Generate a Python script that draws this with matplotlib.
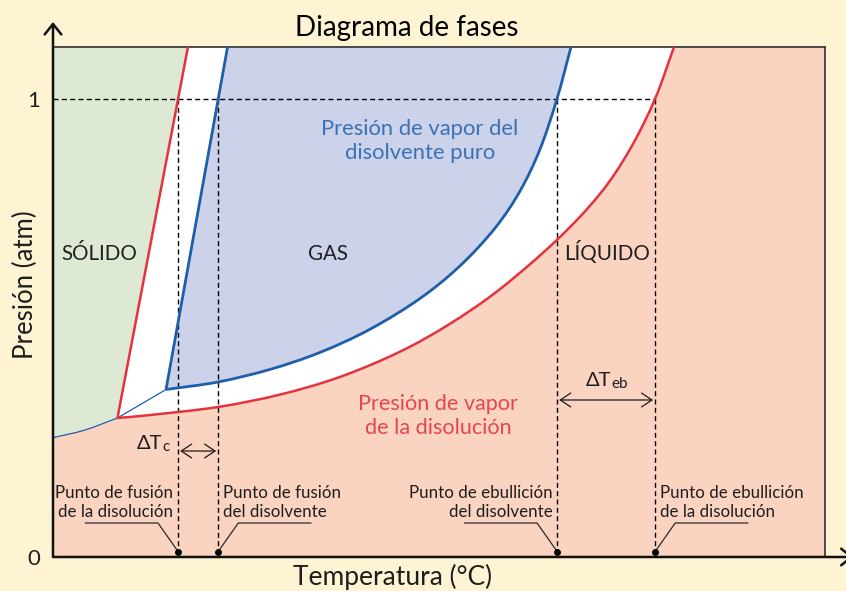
import numpy as np
import matplotlib
matplotlib.use("Agg")
import matplotlib.pyplot as plt
from matplotlib.path import Path
from matplotlib.patches import PathPatch

plt.rcParams['font.family'] = ['Lato', 'DejaVu Sans']

# ---------------------------------------------------------------
# Data: temperature on a relative 0-100 scale, pressure in atm
# ---------------------------------------------------------------
t_fus_disolucion = 16.2    # punto de fusión de la disolución
t_fus_disolvente = 21.4    # punto de fusión del disolvente
t_eb_disolvente = 65.3     # punto de ebullición del disolvente
t_eb_disolucion = 78.0     # punto de ebullición de la disolución

# sublimation curve of the pure solvent (up to the solution's triple point)
sub_T = [0.0, 4.15, 8.35]
sub_p = [0.2605, 0.2773, 0.3035]

# vapour pressure of the pure solvent (starts at its triple point)
vap_disolvente_T = [14.64, 21.37, 28.11, 34.59, 41.06, 47.54, 52.72, 57.25,
                    60.49, 63.08, 65.28, 67.10]
vap_disolvente_p = [0.3657, 0.3821, 0.4096, 0.4467, 0.4972, 0.5644, 0.6356,
                    0.7179, 0.7989, 0.8902, 1.0, 1.1135]

# vapour pressure of the solution (starts at its triple point)
vap_disolucion_T = [8.35, 12.56, 21.37, 29.40, 37.18, 44.95, 51.42, 57.90,
                    65.28, 70.85, 74.74, 77.98, 80.44]
vap_disolucion_p = [0.3035, 0.3100, 0.3275, 0.3546, 0.3932, 0.4483, 0.5092,
                    0.5849, 0.6924, 0.7928, 0.8902, 1.0, 1.1135]

y_ticks = [0, 1]
y_ticklabels = ['0', '1']

T_MIN, T_MAX = 0.0, 100.0
P_MIN, P_MAX = 0.0, 1.1135

# ---------------------------------------------------------------
# Colours
# ---------------------------------------------------------------
C_BG = '#FEF4D4'
C_SOLID = '#DDE9D2'
C_GAS = '#CDD2EB'
C_LIQ = '#FBD3C1'
C_RED = '#E5323F'
C_BLUE = '#1F5EA8'
C_RED_TXT = '#E6454E'
C_BLUE_TXT = '#3A72B5'
C_TXT = '#1E1E1E'


def bezier_segments(xs, ys):
    """Catmull-Rom curve through the points, as cubic Bezier control triplets."""
    pts = np.column_stack([xs, ys]).astype(float)
    ext = np.vstack([2 * pts[0] - pts[1], pts, 2 * pts[-1] - pts[-2]])
    segs = []
    for i in range(len(pts) - 1):
        p0, p1, p2, p3 = ext[i], ext[i + 1], ext[i + 2], ext[i + 3]
        segs.append((p1 + (p2 - p0) / 6.0, p2 - (p3 - p1) / 6.0, p2))
    return segs


def build_path(pieces, close=True):
    """pieces: list of ('L' | 'C', xs, ys), each continuing from the previous one."""
    verts, codes = [], []
    for k, (kind, xs, ys) in enumerate(pieces):
        if k == 0:
            verts.append((xs[0], ys[0]))
            codes.append(Path.MOVETO)
        if kind == 'L':
            for x, y in zip(xs[1:], ys[1:]):
                verts.append((x, y))
                codes.append(Path.LINETO)
        else:
            for c1, c2, p in bezier_segments(xs, ys):
                verts += [tuple(c1), tuple(c2), tuple(p)]
                codes += [Path.CURVE4] * 3
    if close:
        verts.append(verts[0])
        codes.append(Path.CLOSEPOLY)
    return Path(verts, codes)


def melt_line(T_tp, p_tp, T_fus):
    """Straight melting line from the triple point through (T_fus, 1 atm) to the top."""
    slope = (T_fus - T_tp) / (1.0 - p_tp)
    return [T_tp, T_tp + slope * (P_MAX - p_tp)], [p_tp, P_MAX]


tp_solv = (vap_disolvente_T[0], vap_disolvente_p[0])
tp_disol = (vap_disolucion_T[0], vap_disolucion_p[0])
melt_disol_T, melt_disol_p = melt_line(*tp_disol, t_fus_disolucion)
melt_solv_T, melt_solv_p = melt_line(*tp_solv, t_fus_disolvente)

fig = plt.figure(figsize=(8.46, 5.91), dpi=100, facecolor=C_BG)
ax = fig.add_axes([53 / 846, 1 - 557 / 591, 772 / 846, 510 / 591])
ax.set_xlim(T_MIN, T_MAX)
ax.set_ylim(P_MIN, P_MAX)
ax.set_facecolor('white')

# ---- phase regions ----
solid = build_path([
    ('L', [T_MIN, melt_disol_T[1], melt_disol_T[0]], [P_MAX, P_MAX, melt_disol_p[0]]),
    ('C', sub_T[::-1], sub_p[::-1]),
    ('L', [T_MIN, T_MIN], [sub_p[0], P_MAX]),
])
gas = build_path([
    ('L', [melt_solv_T[0], melt_solv_T[1], vap_disolvente_T[-1]],
          [melt_solv_p[0], P_MAX, P_MAX]),
    ('C', vap_disolvente_T[::-1], vap_disolvente_p[::-1]),
])
liquid = build_path([
    ('L', [T_MIN, T_MIN], [P_MIN, sub_p[0]]),
    ('C', sub_T, sub_p),
    ('C', vap_disolucion_T, vap_disolucion_p),
    ('L', [vap_disolucion_T[-1], T_MAX, T_MAX], [P_MAX, P_MAX, P_MIN]),
])
for path, col in [(solid, C_SOLID), (gas, C_GAS), (liquid, C_LIQ)]:
    ax.add_patch(PathPatch(path, facecolor=col, edgecolor='none', zorder=1))

# ---- reference lines at 1 atm ----
dash = dict(color='black', lw=1.0, dashes=(3.6, 2.4), zorder=2)
ax.plot([T_MIN, t_eb_disolucion], [1, 1], **dash)
points = [t_fus_disolucion, t_fus_disolvente, t_eb_disolvente, t_eb_disolucion]
for t in points:
    ax.plot([t, t], [1, 0.012], **dash)

# ---- phase boundaries ----
sub_line = build_path([('C', sub_T, sub_p),
                       ('L', [sub_T[-1], tp_solv[0]], [sub_p[-1], tp_solv[1]])],
                      close=False)
ax.add_patch(PathPatch(sub_line, facecolor='none', edgecolor=C_BLUE, lw=0.9, zorder=3))
ax.plot(melt_disol_T, melt_disol_p, color=C_RED, lw=1.8, zorder=4, solid_capstyle='butt')
ax.plot(melt_solv_T, melt_solv_p, color=C_BLUE, lw=2.0, zorder=4, solid_capstyle='butt')
ax.add_patch(PathPatch(build_path([('C', vap_disolucion_T, vap_disolucion_p)], close=False),
                       facecolor='none', edgecolor=C_RED, lw=1.8, zorder=4))
ax.add_patch(PathPatch(build_path([('C', vap_disolvente_T, vap_disolvente_p)], close=False),
                       facecolor='none', edgecolor=C_BLUE, lw=2.0, zorder=4))

# ---- marked points on the temperature axis ----
ax.plot(points, [0.012] * 4, 'o', color='black', ms=4, zorder=6, clip_on=False)

lab_kw = dict(fontsize=12.2, color=C_TXT, va='center', linespacing=1.3, zorder=6)
p_lab, p_rule = 0.119, 0.0742
labels = [
    (t_fus_disolucion, -1, 'Punto de fusión\nde la disolución'),
    (t_fus_disolvente, +1, 'Punto de fusión\ndel disolvente'),
    (t_eb_disolvente, -1, 'Punto de ebullición\ndel disolvente'),
    (t_eb_disolucion, +1, 'Punto de ebullición\nde la disolución'),
]
for t, side, txt in labels:
    ha = 'right' if side < 0 else 'left'
    ax.text(t + side * 0.6, p_lab, txt, ha=ha, multialignment=ha, **lab_kw)
    ax.plot([t + side * 12.0, t + side * 2.6, t], [p_rule, p_rule, 0.012],
            color='#2a2a2a', lw=0.9, zorder=5)

# ---- temperature differences ----
arrow_kw = dict(arrowstyle='<->,head_length=0.75,head_width=0.5', color='#1a1a1a',
                lw=0.9, shrinkA=1.5, shrinkB=1.5, mutation_scale=10)
ax.annotate('', xy=(t_fus_disolvente, 0.2314), xytext=(t_fus_disolucion, 0.2314),
            arrowprops=arrow_kw, zorder=6)
ax.annotate('', xy=(t_eb_disolucion, 0.3428), xytext=(t_eb_disolvente, 0.3428),
            arrowprops=arrow_kw, zorder=6)

dtc = ax.text(14.1, 0.248, 'ΔT', fontsize=14.5, color=C_TXT, ha='right', va='center')
ax.annotate('c', xy=(1, 0), xycoords=dtc, xytext=(0.2, 0.5), textcoords='offset points',
            fontsize=11, color=C_TXT, ha='left', va='baseline')
dte = ax.text(70.6, 0.386, 'ΔT', fontsize=14.5, color=C_TXT, ha='center', va='center')
ax.annotate('eb', xy=(1, 0), xycoords=dte, xytext=(0.2, 0.5), textcoords='offset points',
            fontsize=11, color=C_TXT, ha='left', va='baseline')

# ---- region names ----
name_kw = dict(fontsize=14.8, color=C_TXT, ha='center', va='center', zorder=6)
ax.text(5.96, 0.662, 'SÓLIDO', **name_kw)
ax.text(35.6, 0.662, 'GAS', **name_kw)
ax.text(71.76, 0.664, 'LÍQUIDO', **name_kw)
ax.text(47.5, 0.908, 'Presión de vapor del\ndisolvente puro', fontsize=15.8,
        color=C_BLUE_TXT, ha='center', va='center', linespacing=1.25, zorder=6)
ax.text(49.9, 0.308, 'Presión de vapor\nde la disolución', fontsize=15.6,
        color=C_RED_TXT, ha='center', va='center', linespacing=1.25, zorder=6)

# ---- axes, ticks and arrows ----
ax.set_xticks([])
ax.set_yticks(y_ticks)
ax.set_yticklabels(y_ticklabels, fontsize=16, color=C_TXT)
ax.tick_params(axis='y', length=0, pad=9)
for side in ('left', 'bottom'):
    ax.spines[side].set_visible(False)
for side in ('top', 'right'):
    ax.spines[side].set_color('#3d3d3d')
    ax.spines[side].set_linewidth(1.3)

axis_arrow = dict(arrowstyle='->,head_length=0.75,head_width=0.6', color='#111111',
                  lw=1.8, shrinkA=0, shrinkB=0, mutation_scale=10)
ax.annotate('', xy=(0, 1.049), xytext=(0, 0), xycoords='axes fraction',
            arrowprops=axis_arrow, annotation_clip=False, zorder=7)
ax.annotate('', xy=(1.037, 0), xytext=(0, 0), xycoords='axes fraction',
            arrowprops=axis_arrow, annotation_clip=False, zorder=7)

fig.text(407 / 846, 1 - 28 / 591, 'Diagrama de fases', fontsize=20, color='black',
         ha='center', va='center')
fig.text(393 / 846, 1 - 577 / 591, 'Temperatura (°C)', fontsize=19, color=C_TXT,
         ha='center', va='center')
fig.text(25 / 846, 1 - 285 / 591, 'Presión (atm)', fontsize=18.5, color=C_TXT,
         ha='center', va='center', rotation=90)

fig.savefig('out.png', dpi=100, facecolor=C_BG)
